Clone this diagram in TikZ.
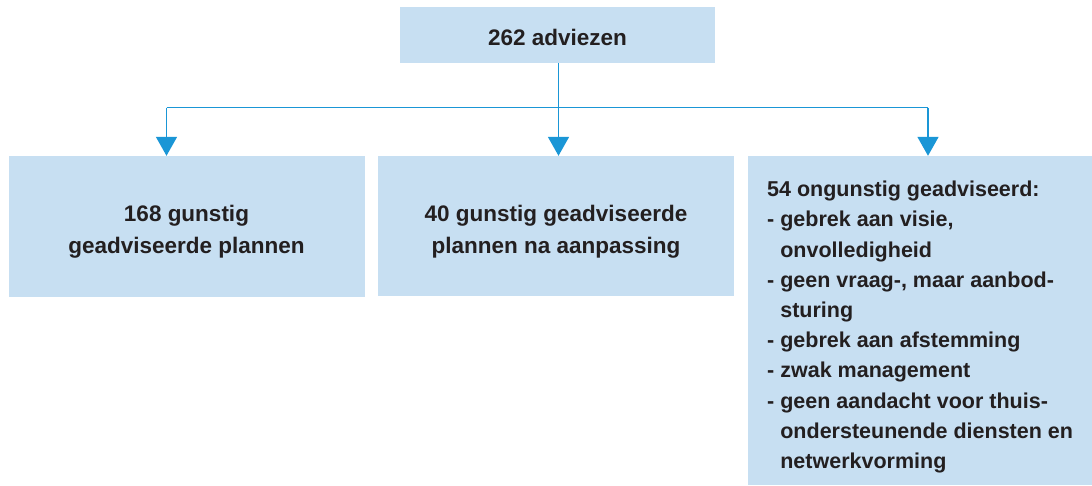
\documentclass[tikz,border=0pt]{standalone}
\usepackage{fontspec}
\setmainfont{Liberation Sans}
\usetikzlibrary{arrows.meta}
\definecolor{boxblue}{RGB}{199,223,242}
\definecolor{lineblue}{RGB}{26,150,214}
\definecolor{txt}{RGB}{35,31,32}
\begin{document}
\begin{tikzpicture}[x=1pt,y=-1pt,
  box/.style={fill=boxblue, draw=none, inner sep=0pt},
  lbl/.style={text=txt, font=\bfseries\fontsize{22.5}{31.7}\selectfont, inner sep=0pt, align=center},
  conn/.style={draw=lineblue, line width=1.6pt, -{Triangle[length=19pt,width=21pt]}},
  seg/.style={draw=lineblue, line width=1.6pt}]
\useasboundingbox (0,0) rectangle (1092,485);
% boxes
\node[box, minimum width=315pt, minimum height=56pt] (top) at (557.5,35) {};
\node[box, minimum width=356pt, minimum height=141pt] (left) at (187,226.5) {};
\node[box, minimum width=356pt, minimum height=140pt] (mid) at (556,226) {};
\node[box, minimum width=344pt, minimum height=329pt] (right) at (920,320.5) {};
% texts
\node[lbl] (ttop) at (557.5,37) {262 adviezen};
\node[lbl] (tleft) at (186.5,232) {168 gunstig\\geadviseerde plannen};
\node[lbl] (tmid) at (556,232) {40 gunstig geadviseerde\\plannen na aanpassing};
\node[lbl, align=left, anchor=north west, font=\bfseries\fontsize{21.5}{30.2}\selectfont] (tright) at (767,181)
{54 ongunstig geadviseerd:\\
- gebrek aan visie,\\
\phantom{- }onvolledigheid\\
- geen vraag-, maar aanbod-\\
\phantom{- }sturing\\
- gebrek aan afstemming\\
- zwak management\\
- geen aandacht voor thuis-\\
\phantom{- }ondersteunende diensten en\\
\phantom{- }netwerkvorming};
% connectors
\coordinate (hl) at (166.5,107.5);
\coordinate (hm) at (558.5,107.5);
\coordinate (hr) at (928,107.5);
\path[seg] (hl) -- (hr);
\path[seg] (top.south -| hm) -- (hm);
\path[conn] (hm) -- (hm |- mid.north);
\path[conn] (hl) -- (hl |- left.north);
\path[conn] (hr) -- (hr |- right.north);
\end{tikzpicture}
\end{document}
